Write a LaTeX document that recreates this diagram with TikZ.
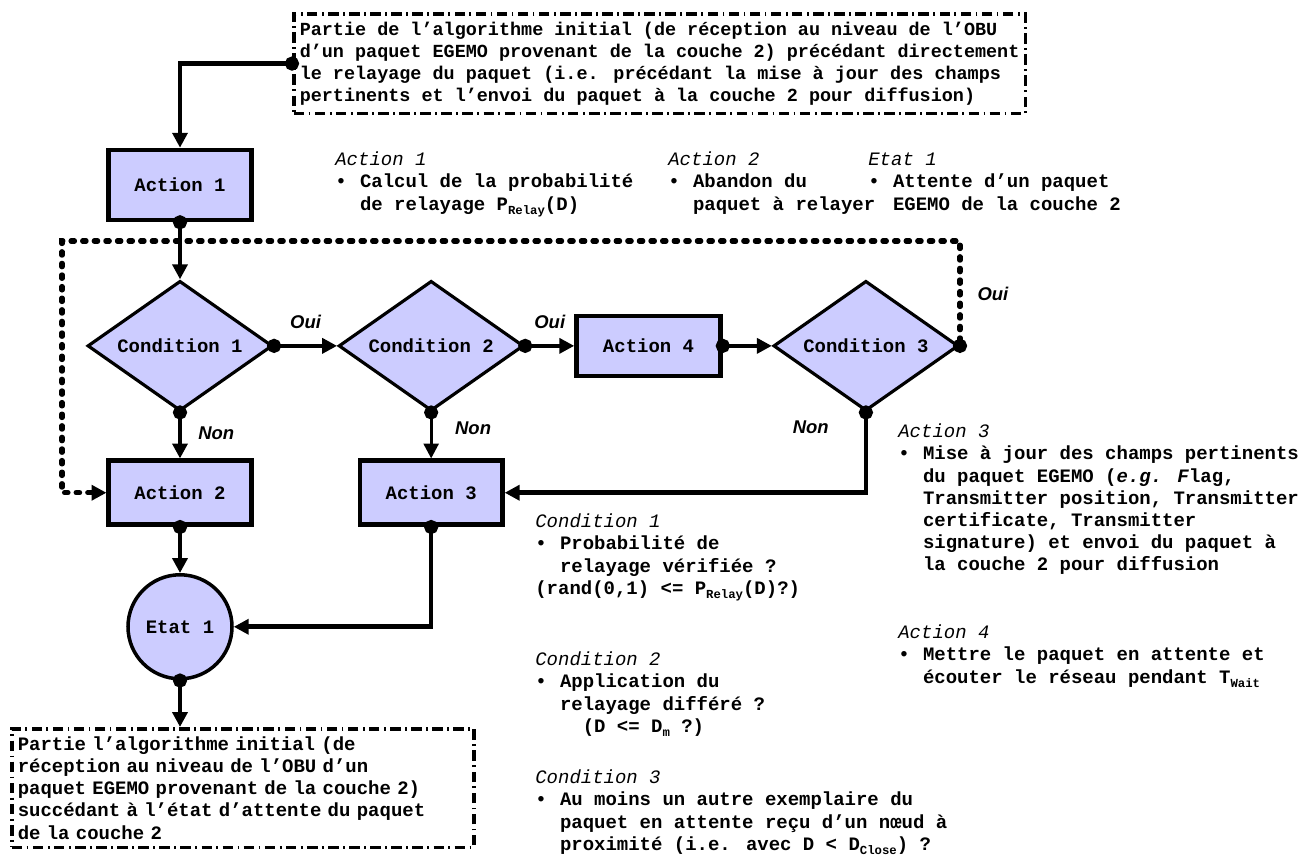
\documentclass[tikz,border=0pt]{standalone}
\usepackage{fontspec}
\setmainfont{Liberation Mono}
\newfontfamily\labelfont{Liberation Sans}
\usetikzlibrary{positioning, arrows.meta, shapes.geometric}
\definecolor{lavender}{RGB}{204,204,255}
\newcommand{\lowidx}[1]{\raisebox{-0.4ex}{\fontsize{7}{7}\selectfont #1}}
\newcommand{\notehead}[1]{\multicolumn{2}{@{}l@{}}{\mdseries\itshape #1}}

\begin{document}
\begin{tikzpicture}[
        x=0.2mm, y=-0.2mm,
        font=\fontsize{10.8}{12.6}\selectfont\bfseries,
        node distance=9.2mm and 10.5mm,
        actbox/.style={draw, fill=lavender, line width=2.6pt, minimum width=28.5mm, minimum height=12.8mm},
        cond/.style={draw, fill=lavender, diamond, aspect=1.42, line width=1.8pt, minimum width=37mm, minimum height=26mm, inner sep=0pt},
        statenode/.style={draw, fill=lavender, circle, line width=2pt, minimum size=20.8mm},
        partbox/.style={draw, line width=2pt, dash pattern=on 6pt off 2.5pt on 1pt off 2.5pt, align=left, anchor=north west, inner xsep=1.2mm, inner ysep=1.6mm},
        note/.style={anchor=north west, inner sep=0pt},
        conn/.style={{Circle[length=8pt]}-{Triangle[length=8.5pt,width=8.5pt]}, line width=2.6pt, shorten <=-4pt},
        loopline/.style={conn, line width=2.9pt, dash pattern=on 2pt off 4.6pt, line cap=round},
        yesno/.style={font=\labelfont\fontsize{10.5}{12}\selectfont\bfseries\itshape, inner sep=0pt}
    ]
    \path[use as bounding box, fill=white] (0,0) rectangle (1310,857);

    \node[partbox, font=\fontsize{10.5}{12.6}\selectfont\bfseries] (TopPart) at (292,12) {Partie de l’algorithme initial (de réception au niveau de l’OBU\\
        d’un paquet EGEMO provenant de la couche 2) précédant directement\\
        le relayage du paquet (i.e. précédant la mise à jour des champs\\
        pertinents et l’envoi du paquet à la couche 2 pour diffusion)};

    \node[actbox, minimum height=14mm] (Act1) at (180,185) {Action 1};
    \node[cond, below=11.4mm of Act1] (Cond1) {Condition 1};
    \node[cond, right=12.6mm of Cond1] (Cond2) {Condition 2};
    \node[actbox, minimum width=28.8mm, minimum height=12mm, right=9.8mm of Cond2] (Act4) {Action 4};
    \node[cond, right=9.8mm of Act4] (Cond3) {Condition 3};
    \node[actbox, below=of Cond1] (Act2) {Action 2};
    \node[actbox, below=of Cond2] (Act3) {Action 3};
    \node[statenode, below=of Act2] (Etat1) {Etat 1};

    \node[partbox, text width=90mm] (BottomPart) at (10,727) {Partie l’algorithme initial (de\\
        réception au niveau de l’OBU d’un\\
        paquet EGEMO provenant de la couche 2)\\
        succédant à l’état d’attente du paquet\\
        de la couche 2};

    % descriptions
    \node[note] (NoteAct1) at (335,150) {\begin{tabular}{@{}l@{\hspace{0.7em}}l@{}}
        \notehead{Action 1}\\
        • & Calcul de la probabilité\\
          & de relayage P\lowidx{Relay}(D)
    \end{tabular}};
    \node[note] (NoteAct2) at (668,150) {\begin{tabular}{@{}l@{\hspace{0.7em}}l@{}}
        \notehead{Action 2}\\
        • & Abandon du\\
          & paquet à relayer
    \end{tabular}};
    \node[note] (NoteEtat1) at (868,150) {\begin{tabular}{@{}l@{\hspace{0.7em}}l@{}}
        \notehead{Etat 1}\\
        • & Attente d’un paquet\\
          & EGEMO de la couche 2
    \end{tabular}};
    \node[note] (NoteAct3) at (898,422) {\begin{tabular}{@{}l@{\hspace{0.7em}}l@{}}
        \notehead{Action 3}\\
        • & Mise à jour des champs pertinents\\
          & du paquet EGEMO (\textit{e.g.} \textit{F}lag,\\
          & Transmitter position, Transmitter\\
          & certificate, Transmitter\\
          & signature) et envoi du paquet à\\
          & la couche 2 pour diffusion
    \end{tabular}};
    \node[note] (NoteAct4) at (898,623) {\begin{tabular}{@{}l@{\hspace{0.7em}}l@{}}
        \notehead{Action 4}\\
        • & Mettre le paquet en attente et\\
          & écouter le réseau pendant T\lowidx{Wait}
    \end{tabular}};
    \node[note] (NoteCond1) at (535,512) {\begin{tabular}{@{}l@{\hspace{0.7em}}l@{}}
        \notehead{Condition 1}\\
        • & Probabilité de\\
          & relayage vérifiée ?\\
        \multicolumn{2}{@{}l@{}}{(rand(0,1) <= P\lowidx{Relay}(D)?)}
    \end{tabular}};
    \node[note] (NoteCond2) at (535,650) {\begin{tabular}{@{}l@{\hspace{0.7em}}l@{}}
        \notehead{Condition 2}\\
        • & Application du\\
          & relayage différé ?\\
          & \hspace{1.2em}(D <= D\lowidx{m} ?)
    \end{tabular}};
    \node[note] (NoteCond3) at (535,768) {\begin{tabular}{@{}l@{\hspace{0.7em}}l@{}}
        \notehead{Condition 3}\\
        • & Au moins un autre exemplaire du\\
          & paquet en attente reçu d’un nœud à\\
          & proximité (i.e. avec D < D\lowidx{Close}) ?
    \end{tabular}};

    % connectors
    \coordinate (LoopTL) at (62,241);
    \coordinate (LoopTR) at (Cond3.east |- LoopTL);

    \draw[conn] (TopPart.west) -| (Act1.north);
    \draw[conn] (Act1.south) -- (Cond1.north);
    \draw[conn] (Cond1.east) -- node[yesno, above=3mm] {Oui} (Cond2.west);
    \draw[conn] (Cond2.east) -- node[yesno, above=3mm] {Oui} (Act4.west);
    \draw[conn] (Act4.east) -- (Cond3.west);
    \draw[conn] (Cond1.south) -- node[yesno, right=3.2mm, pos=0.45] {Non} (Act2.north);
    \draw[conn, line width=1.7pt] (Cond2.south) -- node[yesno, right=4.5mm, pos=0.35] {Non} (Act3.north);
    \draw[conn] (Cond3.south) |- node[yesno, left=7mm, pos=0.09] {Non} (Act3.east);
    \draw[loopline] (Cond3.east) -- node[yesno, right=3mm] {Oui} (LoopTR) -- (LoopTL) |- (Act2.west);
    \draw[conn] (Act2.south) -- (Etat1.north);
    \draw[conn] (Act3.south) |- (Etat1.east);
    \draw[conn] (Etat1.south) -- (Etat1.south |- BottomPart.north);

\end{tikzpicture}
\end{document}
